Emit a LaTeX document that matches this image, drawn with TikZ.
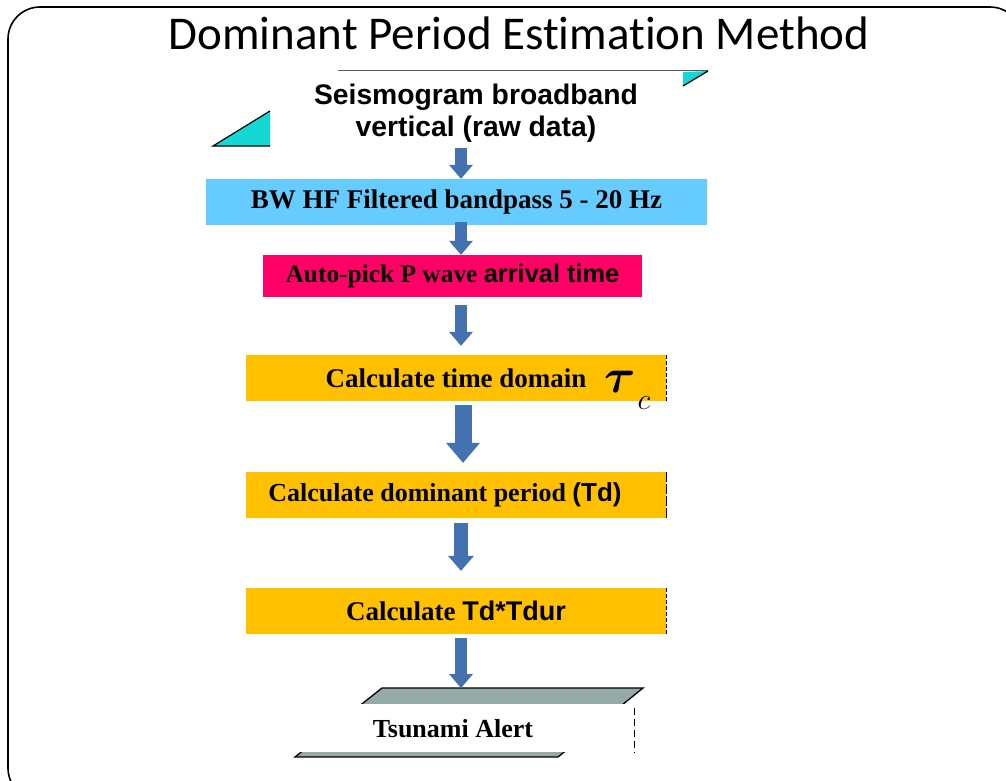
\RequirePackage{fix-cm}
\documentclass[tikz,border=0pt]{standalone}
\usepackage{amsmath}
\usepackage{fontspec}
\setmainfont{Liberation Serif}
\newfontfamily\titlefont{Carlito}[Ligatures=NoCommon]
\newfontfamily\arialf{Liberation Sans}
\usetikzlibrary{arrows.meta,calc}
\definecolor{lblue}{RGB}{102,204,255}
\definecolor{mag}{RGB}{255,0,102}
\definecolor{orng}{RGB}{255,192,0}
\definecolor{abl}{RGB}{68,114,176}
\definecolor{cyn}{RGB}{19,216,211}
\definecolor{pgray}{RGB}{149,169,166}
\tikzset{
  boxs/.style={inner sep=0pt, minimum height=46pt, font=\bfseries\fontsize{27}{32}\selectfont},
  barrow/.style n args={3}{draw=abl, line width=#1, -{Triangle[width=#2, length=#3, line width=0pt]}},
  edgedash/.style={draw=black, line width=0.9pt, dash pattern=on 4pt off 2pt},
}
\begin{document}
\begin{tikzpicture}[x=1pt,y=-1pt]
\useasboundingbox (0,0) rectangle (1006,780);
\clip (0,0) rectangle (1006,780);
% frame
\draw[line width=1.6pt, rounded corners=32pt] (8,7) rectangle (1022,800);
% title
\node[font=\titlefont\fontsize{47}{52}\selectfont, inner sep=0pt] (title) at (519,33) {Dominant Period Estimation Method};
% decorative line and triangles
\draw[black!65, line width=0.8pt] (338,70) -- (708,70);
\fill[cyn] (683,72) -- (708,71) -- (683,86) -- cycle;
\draw[line width=1.2pt] (683,86) -- (708,71);
\fill[cyn] (213,146) -- (270,146) -- (270,111) -- cycle;
\draw[line width=1.2pt] (270,111) -- (213,146) -- (270,146);
% source text
\node[font=\arialf\bfseries\fontsize{28.3}{32}\selectfont, align=center, inner sep=0pt] (seis) at (476,113) {Seismogram broadband\\vertical (raw data)};
% boxes
\node[boxs, fill=lblue, minimum width=501pt] (bw) at (456.5,202) {BW HF Filtered bandpass 5 - 20 Hz};
\node[boxs, fill=mag, minimum width=379pt, minimum height=42pt, font=\bfseries\fontsize{25.4}{30}\selectfont] (ap) at (452.5,276) {Auto-pick P wave {\arialf arrival time}};
\node[boxs, fill=orng, minimum width=420pt] (td) at (456,378) {Calculate time domain};
\node[font=\fontsize{48}{52}\selectfont, inner sep=0pt] (tau) at (620,382) {$\boldsymbol{\tau}$};
\node[font=\fontsize{30}{32}\selectfont, inner sep=0pt] (tauc) at (644,403) {$c$};
\node[boxs, fill=orng, minimum width=420pt, font=\bfseries\fontsize{26}{32}\selectfont] (dp) at (456,495) {Calculate dominant period {\arialf (Td)}\hspace*{22pt}};
\node[boxs, fill=orng, minimum width=420pt] (tt) at (456,611) {Calculate {\arialf Td*Tdur}};
\draw[edgedash] (td.north east) -- (td.south east);
\draw[edgedash, dash pattern=on 10pt off 2pt] (dp.north east) -- (dp.south east);
\draw[edgedash] (tt.north east) -- (tt.south east);
% output parallelogram
\draw[fill=pgray, line width=1.3pt] (382,688) -- (643,688) -- (558,757) -- (295,757) -- cycle;
\coordinate (ptop) at (461,688);
\node[fill=white, minimum width=344pt, minimum height=48pt, inner sep=0pt] (alertbg) at (462,728) {};
\node[font=\bfseries\fontsize{26}{30}\selectfont, inner sep=0pt] (alert) at (453,729) {Tsunami Alert};
\draw[edgedash, dash pattern=on 7pt off 4pt] ([yshift=-4pt]alertbg.north east) -- (alertbg.south east);
% arrows
\coordinate (a1) at (461,148);
\coordinate (a2) at (461,222);
\coordinate (a3) at (461,305);
\coordinate (a4) at (463,405);
\coordinate (a5) at (461,523);
\coordinate (a6) at (461,638);
\draw[barrow={12pt}{24pt}{14pt}] (a1) -- (a1 |- bw.north);
\draw[barrow={12pt}{24pt}{14pt}] (a2) -- (a2 |- ap.north);
\draw[barrow={12pt}{24pt}{14pt}] (a3) -- ($(a3 |- td.north)+(0,-9)$);
\draw[barrow={17pt}{34pt}{20pt}] (a4) -- ($(a4 |- dp.north)+(0,-9)$);
\draw[barrow={14pt}{26pt}{15pt}] (a5) -- ($(a5 |- tt.north)+(0,-17)$);
\draw[barrow={12pt}{24pt}{14pt}] (a6) -- (ptop);
\end{tikzpicture}
\end{document}
